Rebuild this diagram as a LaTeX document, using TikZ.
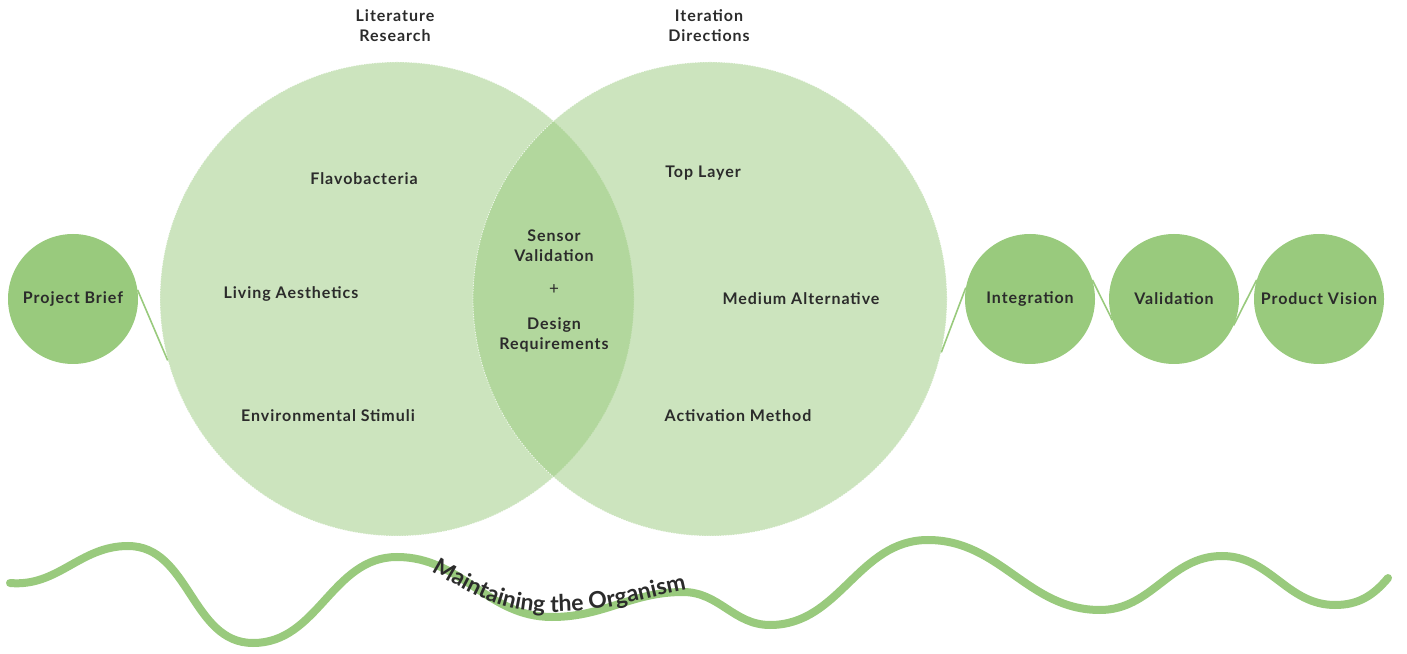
\documentclass[tikz,border=0pt]{standalone}
\usepackage{fontspec}
\setmainfont{Lato}[LetterSpace=6]
\newfontfamily\curvefamily{Lato}
\usetikzlibrary{decorations.text}

\definecolor{leaf}{HTML}{99CA7D}
\definecolor{ink}{HTML}{2B2B2B}

\newcommand\labelfont{\fontsize{16}{20}\selectfont\bfseries}
\newcommand\curvefont{\curvefamily\fontsize{23}{24}\selectfont\bfseries}
\newcommand\plusfont{\fontsize{17}{17}\selectfont\mdseries}

\tikzset{
  x=1pt, y=1pt,
  bigset/.style={circle, minimum size=474pt, inner sep=0pt,
    fill=leaf, fill opacity=0.5,
    draw=white, draw opacity=0.8, line width=0.8pt, dash pattern=on 1.2pt off 1.4pt},
  stage/.style={circle, minimum size=130pt, inner sep=0pt, fill=leaf,
    font=\labelfont, text=ink},
  txt/.style={font=\labelfont, text=ink, align=center, inner sep=0pt},
  link/.style={draw=leaf, line width=1.6pt},
  wave/.style={draw=leaf, line width=8pt, line cap=round},
}

\begin{document}
\begin{tikzpicture}
\useasboundingbox (0,0) rectangle (1407,653);

% the two overlapping sets
\node[bigset] (L) at (397,354) {};
\node[bigset] (R) at (710,354) {};

% set titles
\node[txt] (lit) at (395,627) {Literature\\Research};
\node[txt] (itr) at (709,627) {Iteration\\Directions};

% left set
\node[txt] (flav) at (364,474) {Flavobacteria};
\node[txt] (liv)  at (291,359) {Living Aesthetics};
\node[txt] (env)  at (328,237) {Environmental Stimuli};

% overlap
\node[txt] (sv)   at (554,407) {Sensor\\Validation};
\node[txt, font=\plusfont] (plus) at (554,363) {+};
\node[txt] (dr)   at (554,318) {Design\\Requirements};

% right set
\node[txt] (top)  at (703,480) {Top Layer};
\node[txt] (med)  at (801,354) {Medium Alternative};
\node[txt] (act)  at (738,237) {Activation Method};

% process stages
\node[stage] (pb)  at (73,354)   {Project Brief};
\node[stage] (int) at (1030,354) {Integration};
\node[stage] (val) at (1174,354) {Validation};
\node[stage] (pv)  at (1319,354) {Product Vision};

% connectors
\draw[link] (pb.8) -- (L.195);
\draw[link] (R.-13) -- (int.170);
\draw[link] (int.17) -- (val.199);
\draw[link] (val.-24) -- (pv.163);

% the wave underneath
\draw[wave] (10,70) to[out=-5,in=180] (128,107) to[out=0,in=180] (253,10)
  to[out=0,in=180] (397,96) to[out=0,in=180] (552,36) to[out=0,in=180] (683,61)
  to[out=0,in=180] (770,28) to[out=0,in=180] (928,113) to[out=0,in=180] (1100,43)
  to[out=0,in=180] (1222,97) to[out=0,in=180] (1335,48) to[out=0,in=230] (1388,75);

% caption riding on the wave
\path[decorate, decoration={text along path, text color=ink,
    text align={left indent=6pt},
    text={|\curvefont|Maintaining the Organism}}]
  (426,85) to[out=-30,in=180] (552,41) to[out=0,in=190] (700,66);
\end{tikzpicture}
\end{document}
